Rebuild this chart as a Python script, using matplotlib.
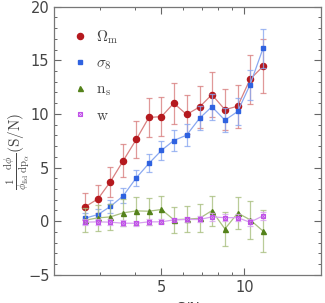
import matplotlib
matplotlib.use("Agg")
import matplotlib.pyplot as plt
from matplotlib.ticker import FixedLocator, FixedFormatter, NullFormatter
from matplotlib.lines import Line2D

plt.rcParams["mathtext.fontset"] = "cm"
plt.rcParams["font.family"] = "DejaVu Sans"

sn = [2.64, 2.94, 3.26, 3.63, 4.05, 4.50, 5.00, 5.54, 6.17, 6.88, 7.62, 8.50, 9.46, 10.48, 11.69]

om = [1.34, 2.08, 3.67, 5.63, 7.62, 9.67, 9.75, 11.0, 9.95, 10.65, 11.8, 10.4, 10.72, 13.22, 14.44]
om_err = [1.25, 1.3, 1.4, 1.55, 1.7, 1.85, 1.85, 1.93, 1.8, 1.93, 2.1, 1.9, 2.0, 2.25, 2.5]

s8 = [0.28, 0.62, 1.37, 2.36, 4.04, 5.38, 6.6, 7.52, 8.02, 9.6, 10.67, 9.42, 10.23, 12.7, 16.1]
s8_err = [0.5, 0.55, 0.6, 0.7, 0.75, 0.84, 0.9, 0.97, 1.0, 1.1, 1.2, 1.15, 1.25, 1.4, 1.85]

ns = [0.09, 0.31, 0.40, 0.78, 0.96, 0.93, 1.09, 0.14, 0.19, 0.27, 0.98, -0.72, 0.76, 0.14, -0.92]
ns_err = [1.1, 1.2, 1.2, 1.25, 1.3, 1.25, 1.25, 1.2, 1.22, 1.3, 1.4, 1.55, 1.48, 1.78, 1.95]

w = [-0.09, -0.06, -0.09, -0.19, -0.19, -0.06, -0.06, 0.12, 0.16, 0.16, 0.40, 0.33, 0.33, -0.10, 0.50]
w_err = [0.25, 0.25, 0.25, 0.28, 0.25, 0.25, 0.22, 0.22, 0.25, 0.28, 0.35, 0.3, 0.35, 0.35, 0.4]

fig = plt.figure(figsize=(3.25, 3.03), dpi=100)
ax = fig.add_axes([0.167, 0.093, 0.821, 0.885])

series = [
    (om, om_err, "#b5191e", "#d98080", "o", 4.4, r"$\Omega_{\rm m}$"),
    (s8, s8_err, "#2f62e0", "#8aa8f0", "s", 3.0, r"$\sigma_8$"),
    (ns, ns_err, "#54821a", "#a9c080", "^", 3.6, r"$\rm n_s$"),
    (w, w_err, "#c050e8", "#d8a0f0", "x", 3.2, r"$\rm w$"),
]

for y, e, c, lc, m, ms, lab in series:
    ax.errorbar(sn, y, yerr=e, fmt="none", ecolor=lc, elinewidth=0.9,
                capsize=2.5, capthick=0.9, alpha=0.8)
    ax.plot(sn, y, "-", color=lc, lw=0.9)
    if m == "x":
        ax.plot(sn, y, "s", ms=ms, mfc="none", mec=c, mew=0.8, ls="none")
        ax.plot(sn, y, "x", ms=ms - 0.8, mec=c, mew=0.6, ls="none", label=lab)
    else:
        ax.plot(sn, y, m, ms=ms, color=c, ls="none", label=lab)

ax.set_xscale("log")
ax.set_xlim(2.04, 19)
ax.set_ylim(-5, 20)
ax.xaxis.set_major_locator(FixedLocator([5, 10]))
ax.xaxis.set_minor_locator(FixedLocator([3, 4, 6, 7, 8, 9]))
ax.xaxis.set_major_formatter(FixedFormatter(["5", "10"]))
ax.xaxis.set_minor_formatter(NullFormatter())
ax.set_yticks([-5, 0, 5, 10, 15, 20])
ax.yaxis.set_minor_locator(FixedLocator([v for v in range(-5, 21) if v % 5]))

ax.tick_params(which="both", direction="in", top=True, right=True,
               color="#666666", labelcolor="#444444", labelsize=10.5)
ax.tick_params(which="major", length=5, width=0.8)
ax.tick_params(which="minor", length=2.5, width=0.7)
for s in ax.spines.values():
    s.set_color("#777777")
    s.set_linewidth(0.9)

ax.set_xlabel("S/N", fontsize=10, color="#444444", labelpad=4)
ax.set_ylabel(r"$\frac{1}{\phi_{\rm fid}}\frac{{\rm d}\phi}{{\rm dp}_\alpha}(\rm S/N)$",
              fontsize=11, color="#444444")
ax.yaxis.set_label_coords(-0.085, 0.46)

handles, labels = ax.get_legend_handles_labels()
hw = Line2D([], [], marker="s", ms=3.2, mfc="none", mec="#c050e8", mew=0.8, ls="none")
hx = Line2D([], [], marker="x", ms=2.4, mec="#c050e8", mew=0.6, ls="none")
handles[3] = (hw, hx)
ax.legend(handles, labels, loc="upper left", bbox_to_anchor=(0.015, 0.97),
          frameon=False, fontsize=11, handlelength=1.0, labelspacing=0.62,
          handletextpad=0.6, labelcolor="#444444")

fig.savefig("out.png", dpi=100)
